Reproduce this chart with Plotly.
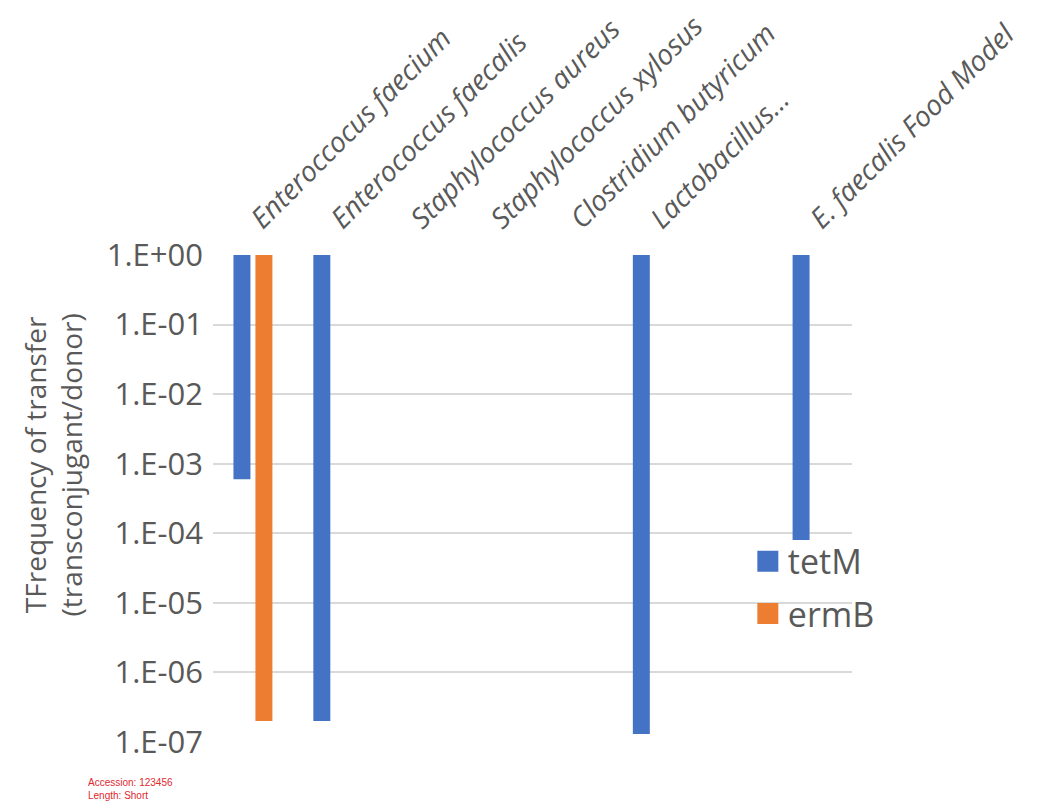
import plotly.graph_objects as go

categories = [
    "Enteroccocus faecium",
    "Enterococcus faecalis",
    "Staphylococcus aureus",
    "Staphylococcus xylosus",
    "Clostridium butyricum",
    "Lactobacillus…",
    " ",
    "E. faecalis Food Model",
]
tetM = [6e-4, 2e-7, None, None, None, 1.3e-7, None, 8e-5]
ermB = [2e-7, None, None, None, None, None, None, None]

ytick_vals = [1, 1e-1, 1e-2, 1e-3, 1e-4, 1e-5, 1e-6, 1e-7]
ytick_text = ["1.E+00", "1.E-01", "1.E-02", "1.E-03", "1.E-04", "1.E-05", "1.E-06", "1.E-07"]

BLUE = "#4472C4"
ORANGE = "#ED7D31"
TEXT = "#595959"
FONT = "Open Sans"

TOP = 1.0  # bars hang from the axis crossing at 1.E+00


def hang(vals):
    return [None if v is None else v - TOP for v in vals]


def bases(vals):
    return [None if v is None else TOP for v in vals]


fig = go.Figure()
fig.add_trace(go.Bar(x=categories, y=hang(tetM), base=bases(tetM), name="tetM",
                     marker=dict(color=BLUE, line=dict(width=0)), showlegend=False))
fig.add_trace(go.Bar(x=categories, y=hang(ermB), base=bases(ermB), name="ermB",
                     marker=dict(color=ORANGE, line=dict(width=0)), showlegend=False))
# legend swatches
fig.add_trace(go.Scatter(x=[None], y=[None], mode="markers", name="tetM",
                         marker=dict(symbol="square", size=16, color=BLUE,
                                     line=dict(color=BLUE, width=5)), legendgroup="a"))
fig.add_trace(go.Scatter(x=[None], y=[None], mode="markers", name="ermB",
                         marker=dict(symbol="square", size=16, color=ORANGE,
                                     line=dict(color=ORANGE, width=5)), legendgroup="b"))

fig.update_layout(
    width=1040, height=796,
    margin=dict(l=205, r=196, t=247, b=62, autoexpand=False),
    paper_bgcolor="white", plot_bgcolor="white",
    font=dict(family=FONT, color=TEXT),
    barmode="group", bargap=0.45, bargroupgap=0.227,
    showlegend=True,
    legend=dict(x=0.837, y=0.43, xanchor="left", yanchor="top",
                bgcolor="rgba(0,0,0,0)", font=dict(size=34, color=TEXT),
                itemsizing="trace", tracegroupgap=5),
    xaxis=dict(type="category", categoryorder="array", categoryarray=categories,
               side="top", tickangle=-45, showgrid=False, showline=False, ticks="",
               tickfont=dict(family=FONT, size=28, color=TEXT, style="italic"),
               ticklabelstandoff=14, fixedrange=True, automargin=False),
    yaxis=dict(type="log", range=[-7, 0], tickvals=ytick_vals, ticktext=ytick_text,
               showgrid=True, gridcolor="#D9D9D9", gridwidth=2, showline=False,
               ticks="", tickfont=dict(family=FONT, size=31, color=TEXT),
               ticklabelstandoff=9, automargin=False),
    annotations=[
        dict(text="TFrequency of transfer<br>(transconjugant/donor)", textangle=-90,
             xref="paper", yref="paper", x=-0.19, y=0.569, xanchor="right",
             yanchor="middle", showarrow=False, align="center",
             font=dict(family=FONT, size=28, color=TEXT)),
        dict(text="Accession: 123456<br>Length: Short", xref="paper", yref="paper",
             x=-0.198, y=-0.068, xanchor="left", yanchor="top", showarrow=False,
             align="left", font=dict(family="Liberation Sans", size=10, color="#E0282E")),
    ],
)

fig.write_html("out.html")
